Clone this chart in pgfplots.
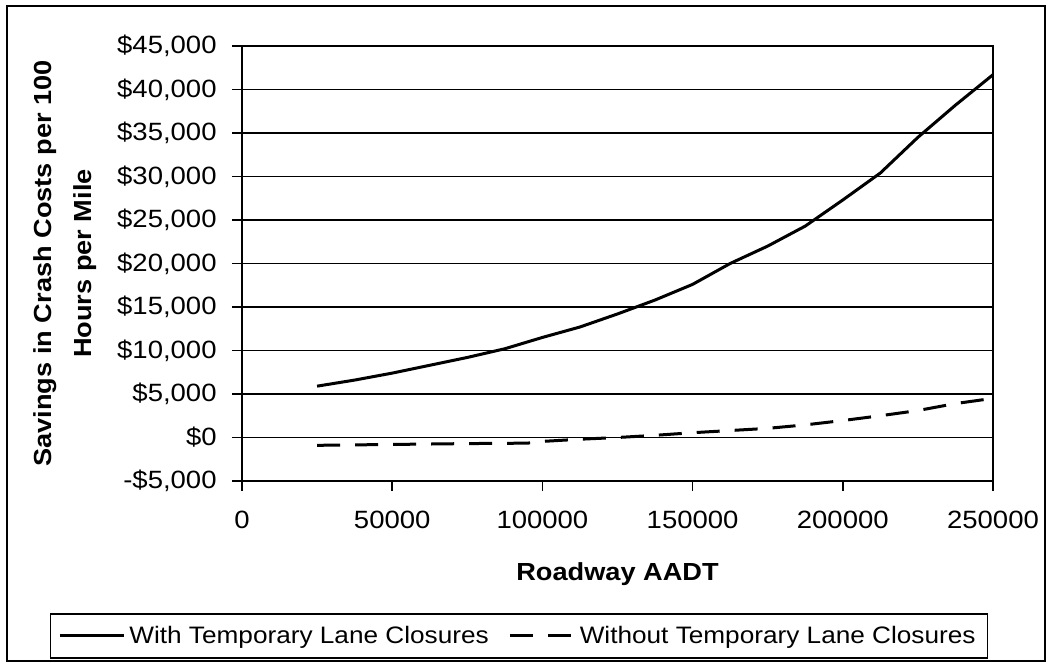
\documentclass[border=0pt]{standalone}
\usepackage{fontspec}
\setmainfont{Liberation Sans}[FakeStretch=1.1]
\usepackage{pgfplots}
\pgfplotsset{compat=1.18}
\begin{document}
\begin{tikzpicture}
\useasboundingbox (-121pt,-91pt) rectangle (404pt,240.5pt);
\draw[line width=0.8pt] (-117.5pt,-90pt) rectangle (401.5pt,237.5pt);
\begin{axis}[
  at={(0,0)}, anchor=south west,
  width=375.5pt, height=217.5pt, scale only axis,
  xmin=0, xmax=250000, ymin=-5000, ymax=45000,
  xtick={0,50000,100000,150000,200000,250000},
  xticklabels={0,50000,100000,150000,200000,250000},
  ytick={-5000,0,5000,10000,15000,20000,25000,30000,35000,40000,45000},
  yticklabels={{-\$5,000},{\$0},{\$5,000},{\$10,000},{\$15,000},{\$20,000},{\$25,000},{\$30,000},{\$35,000},{\$40,000},{\$45,000}},
  scaled x ticks=false, scaled y ticks=false,
  tick align=outside, major tick length=5pt,
  xtick pos=bottom, ytick pos=left,
  ymajorgrids, grid style={black, line width=0.7pt},
  axis line style={line width=0.8pt},
  tick style={black, line width=0.8pt},
  ticklabel style={font=\fontsize{12.5}{14}\selectfont, inner sep=0pt},
  xticklabel style={anchor=north},
  yticklabel style={anchor=east},
  xticklabel shift=10pt,
  yticklabel shift=7.5pt,
  xlabel={Roadway AADT},
  ylabel={Savings in Crash Costs per 100\\Hours per Mile},
  xlabel style={font=\bfseries\fontsize{12.35}{14}\selectfont, at={(axis description cs:0.5,-0.2138)}, anchor=center},
  ylabel style={font=\bfseries\fontsize{12.35}{20}\selectfont, align=center, at={(axis description cs:-0.2357,0.5)}, anchor=center},
  legend columns=2,
  legend style={at={(axis description cs:0.3688,-0.3563)}, anchor=center, draw=black, line width=0.8pt,
    font=\fontsize{11.9}{14}\selectfont, inner xsep=4pt, inner ysep=4pt,
    /tikz/every even column/.append style={column sep=8pt}},
  legend image code/.code={\draw[#1] (0pt,0pt) -- (32pt,0pt);},
]
\addplot[black, line width=1.5pt] coordinates {
(25000,5900) (37500,6600) (50000,7400) (62500,8300) (75000,9200) (87500,10200)
(100000,11500) (112500,12700) (125000,14200) (137500,15800) (150000,17600)
(162500,20000) (175000,22000) (187500,24300) (200000,27300) (212500,30400)
(225000,34500) (237500,38200) (250000,41700)
};
\addlegendentry{With Temporary Lane Closures}
\addplot[black, line width=1.5pt, dash pattern=on 11.5pt off 7.5pt] coordinates {
(25000,-900) (50000,-800) (75000,-700) (95000,-650) (100000,-450) (112500,-200)
(125000,0) (137500,250) (150000,550) (162500,800) (175000,1050) (187500,1450)
(200000,1950) (212500,2500) (225000,3100) (237500,3900) (250000,4500)
};
\addlegendentry{Without Temporary Lane Closures}
\end{axis}
\end{tikzpicture}
\end{document}
